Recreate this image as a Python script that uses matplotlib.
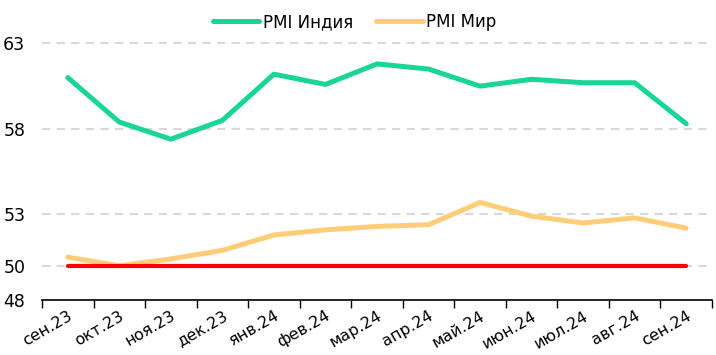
import matplotlib.pyplot as plt
import numpy as np

months = ["сен.23", "окт.23", "ноя.23", "дек.23", "янв.24", "фев.24", "мар.24",
          "апр.24", "май.24", "июн.24", "июл.24", "авг.24", "сен.24"]
pmi_india = [61.0, 58.4, 57.4, 58.5, 61.2, 60.6, 61.8, 61.5, 60.5, 60.9, 60.7, 60.7, 58.3]
pmi_world = [50.5, 50.0, 50.4, 50.9, 51.8, 52.1, 52.3, 52.4, 53.7, 52.9, 52.5, 52.8, 52.2]
threshold = [50] * len(months)
yticks = [48, 50, 53, 58, 63]

fig = plt.figure(figsize=(7.16, 3.55), dpi=100)
ax = fig.add_axes([42 / 716, 0.155, 670 / 716, 0.771])

x = np.arange(len(months))
ax.plot(x, pmi_india, color="#1ad598", lw=3.6, solid_capstyle="round", label="PMI Индия")
ax.plot(x, pmi_world, color="#ffcd78", lw=3.6, solid_capstyle="round", label="PMI Мир")
ax.plot(x, threshold, color="#ff0000", lw=3.0, solid_capstyle="round")

ax.set_xlim(-0.5, len(months) - 0.5)
ax.set_ylim(48, 64)
ax.set_yticks(yticks)
for v in yticks[1:]:
    ax.axhline(v, color="#d9d9d9", lw=1.5, ls=(0, (4, 3)), zorder=0)

ax.set_xticks(x)
ax.set_xticklabels(months, rotation=30, ha="right", rotation_mode="anchor", fontsize=11.5)
ax.set_xticks(np.arange(-0.5, len(months)), minor=True)
ax.tick_params(axis="x", which="major", length=0, pad=6)
ax.tick_params(axis="x", which="minor", length=6, width=1, color="black")
ax.tick_params(axis="y", length=0, pad=12, labelsize=12.5)

for s in ["left", "right", "top"]:
    ax.spines[s].set_visible(False)
ax.spines["bottom"].set_color("black")
ax.spines["bottom"].set_linewidth(1.2)

fig.legend(loc="center", bbox_to_anchor=(0.495, 0.938), ncol=2, frameon=False,
           fontsize=12, handlelength=2.8, handletextpad=0.2, columnspacing=1.4)

fig.savefig("out.png", dpi=100)
